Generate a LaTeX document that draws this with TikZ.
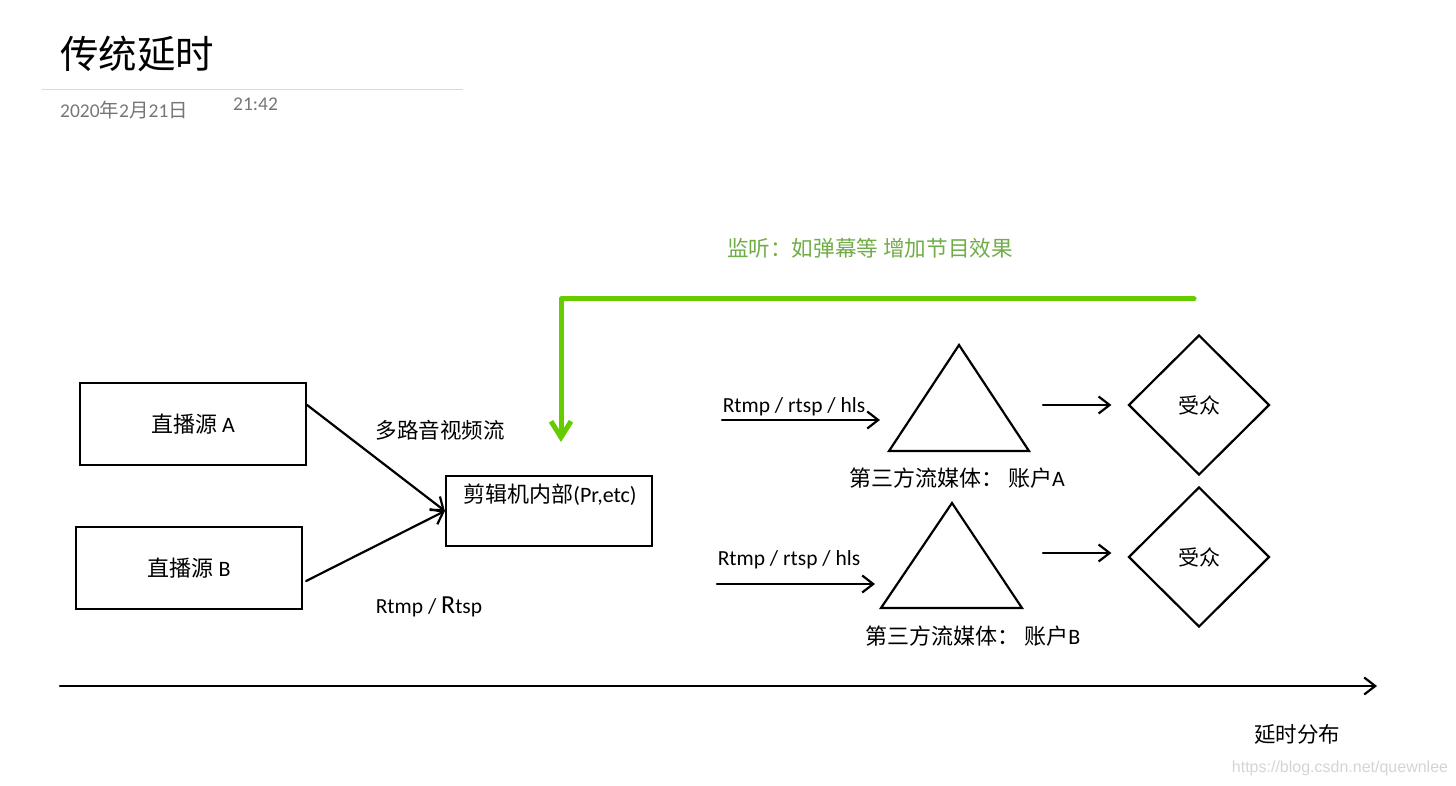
\documentclass[tikz,border=0pt]{standalone}
\usepackage{fontspec}
\setmainfont{Carlito}
\newfontfamily\cjk{Noto Sans CJK SC}
\newfontfamily\wmfont{Liberation Sans}
\usetikzlibrary{arrows.meta,shapes.geometric,calc}
\definecolor{gline}{HTML}{66CC00}
\definecolor{gtext}{HTML}{70AD47}
\definecolor{datec}{HTML}{767676}
\definecolor{rulec}{HTML}{D9D9D9}
\definecolor{wmc}{HTML}{D4D4D4}
\begin{document}
\begin{tikzpicture}[x=1pt,y=-1pt,
  thick line/.style={line width=2.2pt,draw=black},
  box/.style={thick line,minimum width=226pt,minimum height=82pt,inner sep=0pt,font=\fontsize{22}{26}\selectfont},
  arr/.style={thick line,line cap=round,-{Straight Barb[length=11pt,width=17pt]}},
  lbl/.style={inner sep=0pt,font=\fontsize{22}{26}\selectfont},
  proto/.style={inner sep=0pt,font=\fontsize{21.5}{25}\selectfont},
  aud/.style={diamond,thick line,minimum width=141pt,minimum height=140pt,inner sep=0pt,font=\fontsize{21}{24}\selectfont\cjk},
  tri/.style={thick line,line join=miter}
]
\useasboundingbox (0,0) rectangle (1456,786);

% header
\node[anchor=west,inner sep=0pt,font=\fontsize{38.5}{44}\selectfont\cjk] (title) at (60,54) {传统延时};
\coordinate (r0) at (42,90);
\coordinate (r1) at (463,90);
\draw[rulec,line width=1pt] (r0) -- (r1);
\node[anchor=west,inner sep=0pt,text=datec,font=\fontsize{19.5}{22}\selectfont] (date) at (60,110) {2020{\cjk 年}2{\cjk 月}21{\cjk 日}};
\node[anchor=west,inner sep=0pt,text=datec,font=\fontsize{19.5}{22}\selectfont] (time) at (233,104) {21:42};

% sources and editor
\node[box] (A) at (193,424) {{\cjk 直播源} A};
\node[box] (B) at (189,568) {{\cjk 直播源} B};
\node[thick line,minimum width=206pt,minimum height=70pt,inner sep=0pt] (C) at (549,511) {};
\node[lbl,font=\fontsize{22}{26}\selectfont] (Ct) at (550,495) {{\cjk 剪辑机内部}(Pr,etc)};
\draw[arr] ($(A.east)+(0,-19)$) -- (C.west);
\draw[arr] ($(B.east)+(3,13)$) -- (C.west);
\node[lbl,font=\fontsize{21.5}{25}\selectfont\cjk] (multi) at (440,430) {多路音视频流};
\node[proto] (rr) at (429,607) {Rtmp / {\fontsize{26}{30}\selectfont R}tsp};

% green feedback
\node[lbl,text=gtext,font=\fontsize{21.6}{25}\selectfont\cjk] (mon) at (870,248) {监听：如弹幕等 增加节目效果};
\coordinate (g0) at (1194,299);
\coordinate (g1) at (561,299);
\coordinate (g2) at (561,442);
\draw[gline,line width=5pt,line cap=round,line join=round,-{Straight Barb[length=16pt,width=20pt]}] (g0) -- (g1) -- (g2);

% stream A
\coordinate (TAt) at (959,345);
\coordinate (TAl) at (889,451);
\coordinate (TAr) at (1029,451);
\draw[tri] (TAt) -- (TAl) -- (TAr) -- cycle;
\coordinate (inA0) at (722,420);
\coordinate (inA1) at (880,420);
\draw[arr] (inA0) -- (inA1);
\node[proto] (pA) at (794,407) {Rtmp / rtsp / hls};
\node[lbl] (accA) at (957,478) {{\cjk 第三方流媒体：\ 账户}A};
\node[aud] (DA) at (1199,405) {受众};
\coordinate (outA) at (1043,405);
\draw[arr,shorten >=16pt] (outA) -- (DA.west);

% stream B
\coordinate (TBt) at (952,503);
\coordinate (TBl) at (881,608);
\coordinate (TBr) at (1022,608);
\draw[tri] (TBt) -- (TBl) -- (TBr) -- cycle;
\coordinate (inB0) at (717,584);
\coordinate (inB1) at (875,584);
\draw[arr] (inB0) -- (inB1);
\node[proto] (pB) at (789,560) {Rtmp / rtsp / hls};
\node[lbl] (accB) at (973,636) {{\cjk 第三方流媒体：\ 账户}B};
\node[aud] (DB) at (1199,557) {受众};
\coordinate (outB) at (1043,553);
\draw[arr,shorten >=16pt] (outB) -- (outB -| DB.west);

% timeline
\coordinate (t0) at (60,686);
\coordinate (t1) at (1377,686);
\draw[arr] (t0) -- (t1);
\node[lbl,font=\fontsize{21.5}{25}\selectfont\cjk] (dist) at (1297,734) {延时分布};
\node[inner sep=0pt,text=wmc,font=\fontsize{16}{18}\selectfont\wmfont] (wm) at (1340,768) {https://blog.csdn.net/quewnlee};
\end{tikzpicture}
\end{document}
